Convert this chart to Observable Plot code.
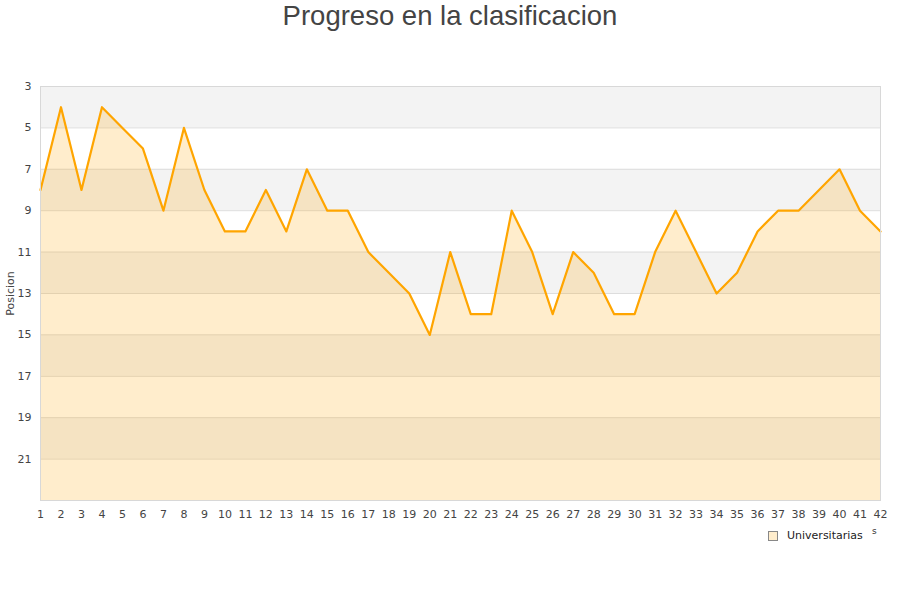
<!DOCTYPE html>
<html>
<head>
<meta charset="utf-8">
<script src="https://cdn.jsdelivr.net/npm/d3@7"></script>
<script src="https://cdn.jsdelivr.net/npm/@observablehq/plot@0.6"></script>
<style>
  body { margin: 0; background: #fff; }
  #wrap { position: relative; width: 900px; height: 600px; }
  #title { position: absolute; left: 0; top: 0; width: 900px; text-align: center;
    font-family: "Liberation Sans", Arial, sans-serif; font-size: 27.5px; color: #444; line-height: 32px; }
  #legend { position: absolute; left: 768px; top: 529px; font-family: "DejaVu Sans", sans-serif;
    font-size: 11px; color: #222; display: flex; align-items: center; }
  #legend .sw { width: 8px; height: 8px; background: #ffedcc; border: 1px solid #888; margin-right: 9px; }
  #stray { position: absolute; left: 872px; top: 526px; font-family: "DejaVu Sans", sans-serif; font-size: 9px; color: #333; }
</style>
</head>
<body>
<div id="wrap">
  <div id="title">Progreso en la clasificacion</div>
  <div id="chart"></div>
  <div id="legend"><div class="sw"></div><span>Universitarias</span></div>
  <div id="stray">s</div>
</div>
<script>
const jornadas = d3.range(1, 43);
const posiciones = [8,4,8,4,5,6,9,5,8,10,10,8,10,7,9,9,11,12,13,15,11,14,14,9,11,14,11,12,14,14,11,9,11,13,12,10,9,9,8,7,9,10];
const yTicks = [3,5,7,9,11,13,15,17,19,21];
const bandStarts = [3,7,11,15,19];
const yDomain = [3, 23];
const seriesName = "Universitarias";

const data = jornadas.map((j, i) => ({jornada: j, pos: posiciones[i]}));

const chart = Plot.plot({
  width: 900,
  height: 600,
  marginTop: 86,
  marginBottom: 100,
  marginLeft: 40,
  marginRight: 20,
  style: { fontFamily: "DejaVu Sans, sans-serif", fontSize: "11px", color: "#444", background: "transparent" },
  x: { domain: [1, 42], label: null },
  y: { domain: yDomain, reverse: true, label: null },
  marks: [
    Plot.rect(bandStarts, { x1: 1, x2: 42, y1: d => d, y2: d => d + 2, fill: "#f3f3f3" }),
    Plot.ruleY(yTicks, { stroke: "#dddddd", strokeWidth: 1 }),
    Plot.areaY(data, { x: "jornada", y1: () => yDomain[1], y2: "pos", fill: "#ffa500", fillOpacity: 0.2 }),
    Plot.line(data, { x: "jornada", y: "pos", stroke: "#ffa500", strokeWidth: 2.2 }),
    Plot.frame({ stroke: "#d8d8d8" }),
    Plot.axisX({ ticks: jornadas, tickSize: 0, tickPadding: 10, tickFormat: d => String(d), label: null }),
    Plot.axisY({ ticks: yTicks, tickSize: 0, tickPadding: 9, label: null }),
    Plot.text([seriesName === "" ? "" : "Posicion"], { frameAnchor: "left", textAnchor: "middle", dx: -30, rotate: -90, fontSize: 11, fill: "#444", text: d => d })
  ]
});
document.getElementById("chart").appendChild(chart);
</script>
</body>
</html>
